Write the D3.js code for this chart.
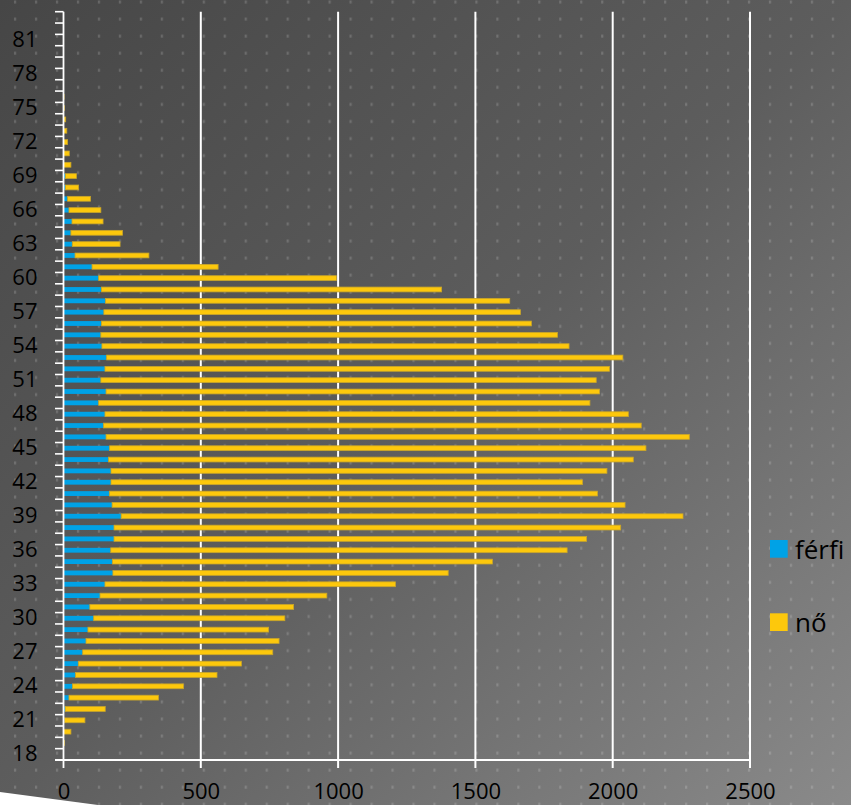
<!DOCTYPE html>
<html>
<head>
<meta charset="utf-8">
<title>férfi / nő korfa</title>
<script src="https://d3js.org/d3.v7.min.js"></script>
<style>
  body, html { margin: 0; padding: 0; background: #ffffff; }
  svg text { font-family: 'Open Sans', sans-serif; fill: #000000; }
  .y_axis path, .x_axis path { display: none; }
  .y_axis line, .x_axis line { display: none; }
  .y_axis text, .x_axis text { font-size: 22px; }
  .legend text { font-size: 26px; }
</style>
</head>
<body>
<div id="chart"></div>
<script>
// age categories, bottom to top
var ages = [18, 19, 20, 21, 22, 23, 24, 25, 26, 27, 28, 29, 30, 31, 32, 33, 34,
            35, 36, 37, 38, 39, 40, 41, 42, 43, 44, 45, 46, 47, 48, 49, 50, 51,
            52, 53, 54, 55, 56, 57, 58, 59, 60, 61, 62, 63, 64, 65, 66, 67, 68,
            69, 70, 71, 72, 73, 74, 75, 76, 77, 78, 79, 80, 81, 82, 83];

var ferfi = [0, 0, 0, 4, 6, 20, 33, 44, 54, 70, 82, 89, 110, 96, 133, 151, 180,
             178, 172, 184, 184, 210, 177, 167, 173, 173, 164, 168, 155, 146, 151, 128, 155, 136,
             151, 157, 140, 136, 138, 147, 153, 138, 128, 104, 42, 32, 27, 31, 20, 15, 7,
             7, 0, 0, 0, 0, 0, 0, 0, 0, 0, 0, 0, 0, 0, 0];

var no = [0, 4, 27, 74, 146, 326, 404, 515, 594, 692, 703, 658, 696, 742, 826, 1058, 1221,
          1384, 1662, 1721, 1845, 2046, 1868, 1778, 1717, 1806, 1911, 1953, 2124, 1958, 1906, 1789, 1797, 1804,
          1837, 1880, 1701, 1663, 1566, 1517, 1472, 1239, 866, 459, 269, 174, 188, 113, 116, 83, 48,
          40, 27, 21, 15, 12, 8, 3, 2, 0, 0, 0, 0, 0, 0, 0];

var age_ticks = [18, 21, 24, 27, 30, 33, 36, 39, 42, 45, 48, 51, 54, 57, 60, 63, 66, 69, 72, 75, 78, 81];
var value_ticks = [0, 500, 1000, 1500, 2000, 2500];

var series_names = ["férfi", "nő"];
var series_colors = ["#00a2e6", "#fdc80c"];
var series_strokes = ["none", "#c8a52a"];

var W = 851, H = 805;
var plot = { left: 63.5, right: 750, top: 11.7, bottom: 760 };

var svg = d3.select("#chart")
            .append("svg")
            .attr("width", W)
            .attr("height", H);

var defs = svg.append("defs");

var grad = defs.append("linearGradient")
               .attr("id", "bg")
               .attr("x1", 0).attr("y1", 0)
               .attr("x2", 1).attr("y2", 1);
grad.append("stop").attr("offset", 0).attr("stop-color", "#464646");
grad.append("stop").attr("offset", 0.5).attr("stop-color", "#5d5d5d");
grad.append("stop").attr("offset", 1).attr("stop-color", "#8a8a8a");

var pat = defs.append("pattern")
              .attr("id", "dots")
              .attr("patternUnits", "userSpaceOnUse")
              .attr("width", 20.97)
              .attr("height", 17.07);
pat.append("rect")
   .attr("x", 14).attr("y", 0.5)
   .attr("width", 2.2).attr("height", 3)
   .attr("fill", "rgba(255,255,255,0.17)");

svg.append("rect").attr("width", W).attr("height", H).attr("fill", "url(#bg)");
svg.append("rect").attr("width", W).attr("height", H).attr("fill", "url(#dots)");

// page corner at bottom left
svg.append("polygon")
   .attr("points", "0,792 98," + H + " 0," + H)
   .attr("fill", "#ffffff");

var x = d3.scaleLinear()
          .domain([0, 2500])
          .range([plot.left, plot.right]);

var y = d3.scaleBand()
          .domain(ages.slice().reverse())
          .range([plot.top, plot.bottom])
          .paddingInner(0.575)
          .paddingOuter(0.2875);

var rows = ages.map(function(a, i) {
  return { age: a, "férfi": ferfi[i], "nő": no[i] };
});

var stacked = d3.stack().keys(series_names)(rows);

// vertical grid lines
svg.append("g")
   .selectAll("line")
   .data(value_ticks.slice(1))
   .enter()
   .append("line")
   .attr("x1", function(d) { return x(d); })
   .attr("x2", function(d) { return x(d); })
   .attr("y1", plot.top)
   .attr("y2", plot.bottom + 8)
   .attr("stroke", "#ffffff")
   .attr("stroke-width", 2);

// bars
svg.append("g")
   .selectAll("g")
   .data(stacked)
   .enter()
   .append("g")
   .attr("fill", function(d, i) { return series_colors[i]; })
   .attr("stroke", function(d, i) { return series_strokes[i]; })
   .attr("stroke-width", 0.8)
   .selectAll("rect")
   .data(function(d) { return d.filter(function(p) { return p[1] - p[0] > 0; }); })
   .enter()
   .append("rect")
   .attr("x", function(d) { return x(d[0]); })
   .attr("width", function(d) { return x(d[1]) - x(d[0]); })
   .attr("y", function(d) { return y(d.data.age); })
   .attr("height", y.bandwidth());

// y axis line and category boundary ticks
var half_gap = (y.step() - y.bandwidth()) / 2;
var bounds = ages.map(function(a) { return y(a) - half_gap; });
bounds.push(plot.bottom);

var yax = svg.append("g");
yax.selectAll("line")
   .data(bounds)
   .enter()
   .append("line")
   .attr("x1", plot.left - 8.5)
   .attr("x2", plot.left)
   .attr("y1", function(d) { return d; })
   .attr("y2", function(d) { return d; })
   .attr("stroke", "#ffffff")
   .attr("stroke-width", 1.6);
yax.append("line")
   .attr("x1", plot.left).attr("x2", plot.left)
   .attr("y1", plot.top).attr("y2", plot.bottom + 8)
   .attr("stroke", "#ffffff")
   .attr("stroke-width", 1.8);

// x axis line
svg.append("line")
   .attr("x1", plot.left - 8.5).attr("x2", x(2500))
   .attr("y1", plot.bottom).attr("y2", plot.bottom)
   .attr("stroke", "#ffffff")
   .attr("stroke-width", 2);

svg.append("g")
   .attr("class", "y_axis")
   .attr("transform", "translate(" + plot.left + ",0)")
   .call(d3.axisLeft(y).tickValues(age_ticks).tickSize(0).tickPadding(26));

svg.append("g")
   .attr("class", "x_axis")
   .attr("transform", "translate(0," + plot.bottom + ")")
   .call(d3.axisBottom(x).tickValues(value_ticks).tickSize(0).tickPadding(23.5)
           .tickFormat(d3.format("d")));

// legend
var legend = svg.append("g")
                .attr("class", "legend")
                .attr("transform", "translate(770,540)");
var item = legend.selectAll("g")
                 .data(series_names)
                 .enter()
                 .append("g")
                 .attr("transform", function(d, i) { return "translate(0," + (i * 73.3) + ")"; });
item.append("rect")
    .attr("width", 17.7)
    .attr("height", 17.7)
    .attr("fill", function(d, i) { return series_colors[i]; });
item.append("text")
    .attr("x", 25)
    .attr("y", 18.5)
    .text(function(d) { return d; });
</script>
</body>
</html>
